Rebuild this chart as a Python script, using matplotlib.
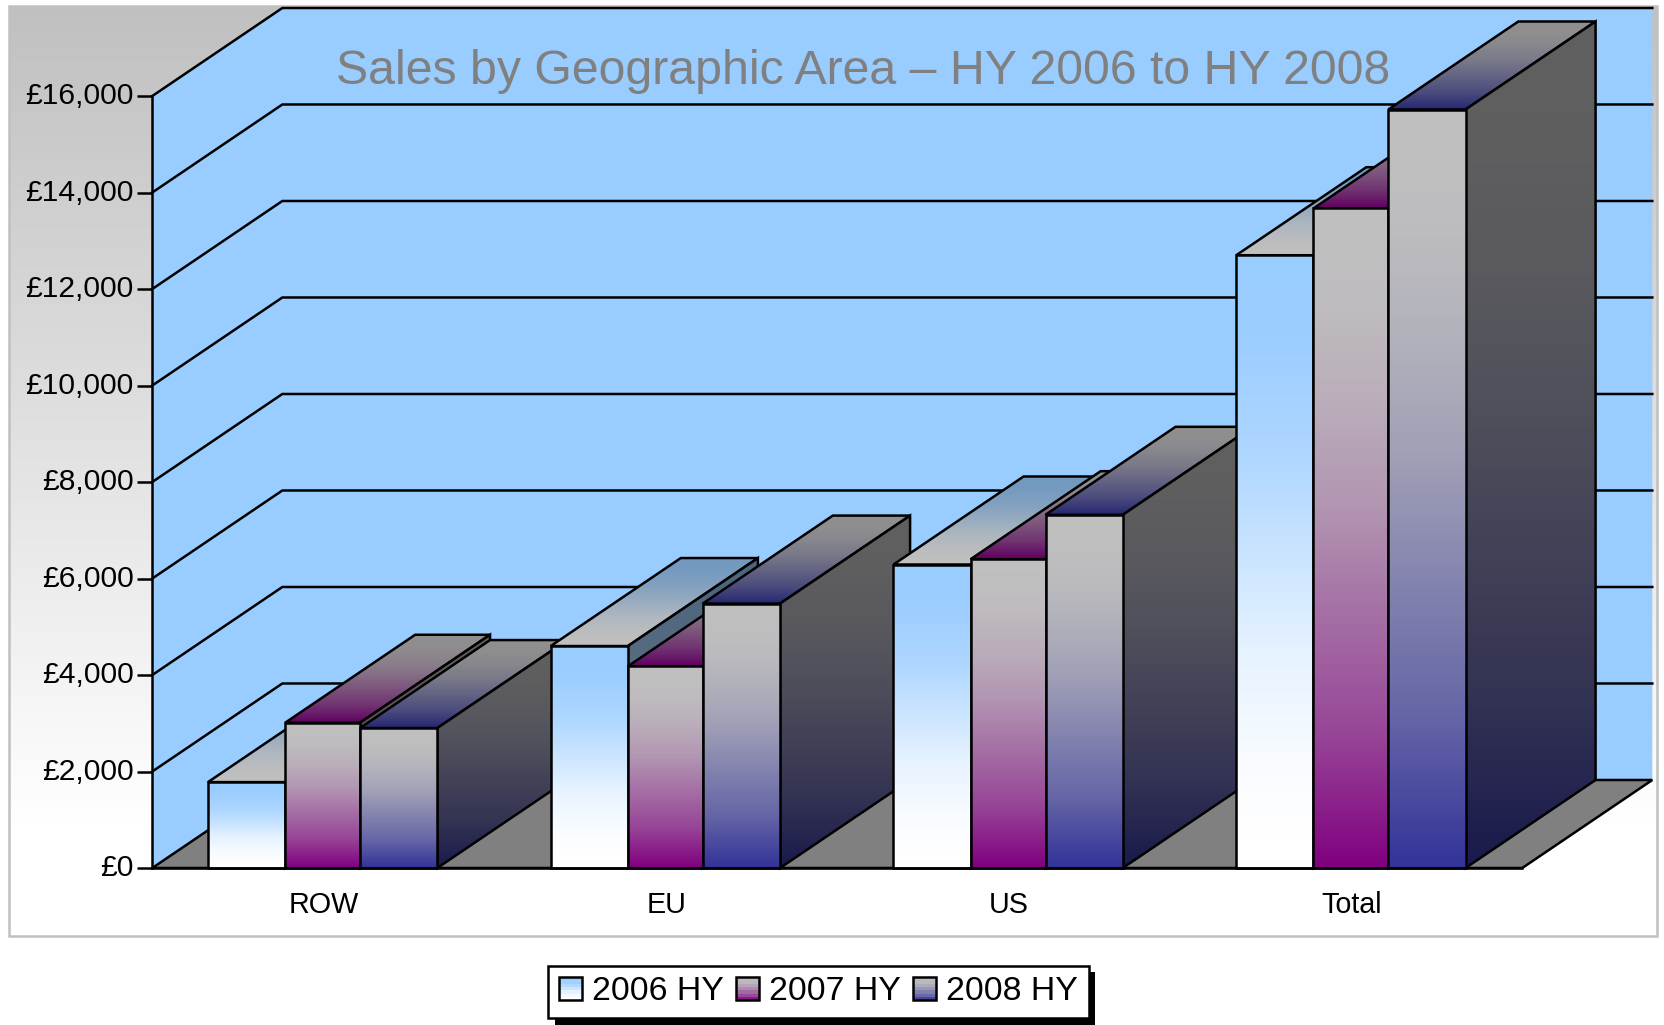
import numpy as np
import matplotlib
matplotlib.use('Agg')
import matplotlib.pyplot as plt
import matplotlib.patheffects as pe
from matplotlib.colors import LinearSegmentedColormap, to_rgb
from matplotlib.legend_handler import HandlerBase
from matplotlib.patches import Patch, Polygon, Rectangle
from matplotlib.transforms import ScaledTranslation

plt.rcParams['font.family'] = ['Liberation Sans', 'DejaVu Sans']

# Data
categories = ['ROW', 'EU', 'US', 'Total']
sales_2006 = [1780, 4600, 6290, 12700]
sales_2007 = [3010, 4180, 6400, 13670]
sales_2008 = [2900, 5480, 7320, 15720]
series_names = ['2006 HY', '2007 HY', '2008 HY']
y_ticks = [0, 2000, 4000, 6000, 8000, 10000, 12000, 14000, 16000]
title = 'Sales by Geographic Area \u2013 HY 2006 to HY 2008'

# Styles
W, H, DPI = 1664, 1025, 100
LW = 1.8
WALL = '#99CCFF'
FLOOR = '#808080'


def ramp(col_a, col_b, pos, mix):
    a = np.array(to_rgb(col_a))
    b = np.array(to_rgb(col_b))
    return [(p, tuple(a + (b - a) * m)) for p, m in zip(pos, mix)]


blue_pos = [0, 0.12, 0.32, 0.49, 0.65, 0.82, 0.95, 1]
blue_mix = [0, 0.02, 0.20, 0.48, 0.76, 0.93, 1, 1]
grey_pos = [0, 0.15, 0.30, 0.45, 0.60, 0.80, 1]
grey_mix = [0, 0.02, 0.10, 0.22, 0.40, 0.64, 1]
stops_2006 = ramp('#99CCFF', '#FFFFFF', blue_pos, blue_mix)
stops_2007 = ramp('#C0C0C0', '#800080', grey_pos, grey_mix)
stops_2008 = ramp('#C0C0C0', '#333399', grey_pos, grey_mix)
series_stops = [stops_2006, stops_2007, stops_2008]

# fake 3d geometry, in data units
DX = 0.3794
DY = 1824
X_END = 3.997
bar_left = [0.1625, 0.3875, 0.606]
bar_right = [0.3875, 0.606, 0.8315]


def shaded(stops, shade):
    return [(p, tuple(c * shade for c in col)) for p, col in stops]


def gradient_poly(ax, pts, stops, shade, z):
    # vertical gradient clipped to a polygon, black outline on top
    pts = np.array(pts)
    cmap = LinearSegmentedColormap.from_list('face', shaded(stops, shade))
    grad = np.linspace(0, 1, 256).reshape(-1, 1)
    extent = [pts[:, 0].min(), pts[:, 0].max(), pts[:, 1].min(), pts[:, 1].max()]
    im = ax.imshow(grad, cmap=cmap, vmin=0, vmax=1, extent=extent, origin='upper',
                   aspect='auto', interpolation='bilinear', zorder=z)
    outline = Polygon(pts, closed=True, facecolor='none', edgecolor='black',
                      linewidth=LW, joinstyle='miter', clip_on=False, zorder=z + 0.01)
    ax.add_patch(outline)
    im.set_clip_path(outline)
    im.set_clip_box(ax.figure.bbox)


class SwatchHandler(HandlerBase):
    # legend swatch made of horizontal bands
    def __init__(self, stops):
        super().__init__()
        self.stops = stops

    def create_artists(self, legend, orig_handle, xdescent, ydescent, width, height,
                       fontsize, trans):
        cmap = LinearSegmentedColormap.from_list('swatch', self.stops)
        bands = []
        n = 7
        for i in range(n):
            bands.append(Rectangle((-xdescent, -ydescent + height * (n - 1 - i) / n), width, height / n,
                                   facecolor=cmap((i + 0.5) / n), edgecolor='none', transform=trans))
        bands.append(Rectangle((-xdescent, -ydescent), width, height, facecolor='none',
                               edgecolor='black', linewidth=LW, transform=trans))
        return bands


fig = plt.figure(figsize=(W / DPI, H / DPI), dpi=DPI, facecolor='white')

# chart area background
bg = fig.add_axes([0, 0, 1, 1], zorder=-1)
bg.set_axis_off()
page = LinearSegmentedColormap.from_list('page', [(0, '#C0C0C0'), (0.88, '#FFFFFF'), (1, '#FFFFFF')])
bg.imshow(np.linspace(0, 1, 256).reshape(-1, 1), cmap=page, extent=[8.5, 1656.5, 936, 6],
          aspect='auto', origin='upper')
bg.add_patch(Rectangle((8.5, 6), 1648, 930, facecolor='none', edgecolor='#C0C0C0', linewidth=1.8))
bg.set_xlim(0, W)
bg.set_ylim(H, 0)

ax = fig.add_axes([152.3 / W, 1 - 868 / H, 1371 / W, 772 / H])
ax.patch.set_visible(False)

# walls, floor, gridlines
top = y_ticks[-1]
ax.add_patch(Polygon([(0, 0), (DX, DY), (X_END + DX, DY), (X_END + DX, top + DY), (DX, top + DY), (0, top)],
                     facecolor=WALL, edgecolor='none', clip_on=False, zorder=0.1))
for v in y_ticks[1:]:
    ax.plot([0, DX, X_END + DX], [v, v + DY, v + DY], color='black', lw=LW, clip_on=False,
            solid_joinstyle='miter', zorder=0.2)
ax.add_patch(Polygon([(0, 0), (DX, DY), (X_END + DX, DY), (X_END, 0)], facecolor=FLOOR,
                     edgecolor='black', linewidth=LW, clip_on=False, zorder=0.3))

# bars, painted left to right so nearer ones cover the sides of the earlier ones
series = [sales_2006, sales_2007, sales_2008]
z = 1.0
for c in range(len(categories)):
    for s in range(len(series)):
        val = series[s][c]
        x0 = c + bar_left[s]
        x1 = c + bar_right[s]
        stops = series_stops[s]
        gradient_poly(ax, [(x0, val), (x0 + DX, val + DY), (x1 + DX, val + DY), (x1, val)], stops, 0.75, z)
        gradient_poly(ax, [(x1, 0), (x1 + DX, DY), (x1 + DX, val + DY), (x1, val)], stops, 0.5, z + 0.02)
        gradient_poly(ax, [(x0, 0), (x0, val), (x1, val), (x1, 0)], stops, 1.0, z + 0.04)
        z += 0.06

ax.set_xlim(0, 4)
ax.set_ylim(0, top)
ax.set_yticks(y_ticks)
ax.set_yticklabels(['\u00a3{:,}'.format(v) for v in y_ticks], fontsize=21.6, color='black')
ax.set_xticks(np.arange(len(categories)) + 0.5)
ax.set_xticklabels(categories, fontsize=20.7, color='black')
ax.tick_params(axis='y', length=10.5, width=LW, pad=3)
ax.tick_params(axis='x', length=0, pad=16.5)
for lab in ax.get_yticklabels():
    lab.set_transform(lab.get_transform() + ScaledTranslation(0, 2 / 72, fig.dpi_scale_trans))
for side in ['top', 'right']:
    ax.spines[side].set_visible(False)
ax.spines['left'].set_linewidth(LW)
ax.spines['bottom'].set_linewidth(LW)
ax.spines['bottom'].set_bounds(0, X_END)

fig.suptitle(title, x=863.6 / W, y=1 - 71 / H, va='center', ha='center', fontsize=34.75, color='#808080')

# legend
handles = [Patch(label=name) for name in series_names]
handler_map = {h: SwatchHandler(st) for h, st in zip(handles, series_stops)}
leg = fig.legend(handles=handles, handler_map=handler_map, ncol=3, loc='center',
                 bbox_to_anchor=(818.7 / W, 1 - 992 / H), fontsize=24.4, frameon=True, fancybox=False,
                 framealpha=1, edgecolor='black', borderpad=0.32, handlelength=0.68, handleheight=0.68,
                 handletextpad=0.3, columnspacing=0.35, borderaxespad=0)
leg.get_frame().set_linewidth(LW)
leg.get_frame().set_path_effects([pe.SimplePatchShadow(offset=(4.5, -4.5), shadow_rgbFace='black', alpha=1),
                                  pe.Normal()])

fig.savefig('out.png', dpi=DPI)
